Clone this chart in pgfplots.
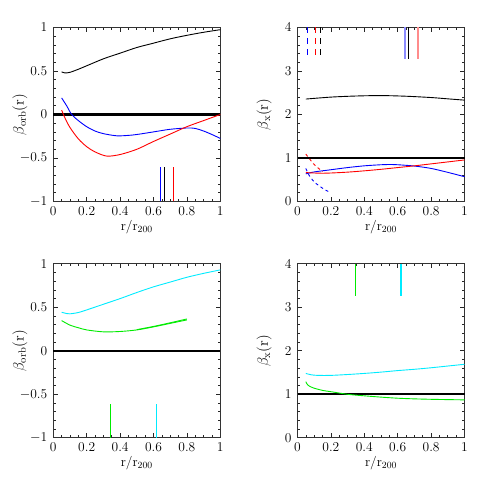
\RequirePackage{fix-cm}
\documentclass[border=0pt]{standalone}
\usepackage{pgfplots}
\pgfplotsset{compat=1.18}
\definecolor{cy}{RGB}{0,235,255}
\definecolor{gr}{RGB}{0,235,0}
\definecolor{lb}{RGB}{140,140,255}
\definecolor{lr}{RGB}{255,140,140}

\pgfplotsset{
  panel/.style={
    scale only axis, width=167pt, height=174pt,
    anchor=south west,
    xmin=0, xmax=1,
    xtick={0,0.2,...,1}, minor x tick num=3,
    xticklabels={0,0.2,0.4,0.6,0.8,1},
    tick align=inside,
    major tick length=4.5pt, minor tick length=2.5pt,
    every tick/.style={black!85, line width=0.65pt},
    axis line style={black!80, line width=0.8pt},
    tick label style={font=\fontsize{13.5}{15}\selectfont},
    xticklabel style={yshift=-1.5pt},
    yticklabel style={xshift=-2.5pt},
    xlabel={$\mathrm{r/r_{200}}$},
    xlabel style={font=\fontsize{13.5}{15}\selectfont,
      at={(axis description cs:0.5,-0.145)}, anchor=center},
    ylabel style={font=\fontsize{15}{17}\selectfont,
      at={(axis description cs:-0.2,0.5)}, anchor=center},
    clip=false,
  },
  orb/.style={panel, ymin=-1, ymax=1, ytick={-1,-0.5,0,0.5,1}, minor y tick num=4,
    ylabel={$\beta_{\mathrm{orb}}(\mathrm{r})$}},
  bx/.style={panel, ymin=0, ymax=4, ytick={0,1,2,3,4}, minor y tick num=4,
    ylabel={$\beta_{\mathrm{x}}(\mathrm{r})$}},
  crv/.style={line width=0.9pt, no marks, smooth},
  mk/.style={line width=1.1pt, no marks},
}

\begin{document}
\begin{tikzpicture}[x=1pt,y=1pt]
\path (0,0) rectangle (491,491);

% top left
\begin{axis}[orb, at={(53.3pt,289.5pt)}]
\addplot[black, line width=2.2pt, no marks] coordinates {(0,0) (1,0)};
\addplot[black, crv] coordinates {(0.05,0.49) (0.07,0.478) (0.1,0.485) (0.15,0.52) (0.2,0.56) (0.3,0.64) (0.4,0.705) (0.5,0.77) (0.6,0.82) (0.7,0.87) (0.8,0.91) (0.9,0.945) (1.0,0.975)};
\addplot[blue, crv] coordinates {(0.05,0.19) (0.08,0.10) (0.11,0.0) (0.15,-0.07) (0.2,-0.14) (0.25,-0.19) (0.3,-0.22) (0.38,-0.245) (0.45,-0.24) (0.5,-0.23) (0.6,-0.2) (0.7,-0.17) (0.8,-0.155) (0.85,-0.16) (0.9,-0.19) (0.95,-0.23) (1.0,-0.275)};
\addplot[red, crv] coordinates {(0.05,0.05) (0.07,-0.04) (0.1,-0.15) (0.15,-0.28) (0.2,-0.37) (0.25,-0.43) (0.32,-0.478) (0.4,-0.46) (0.5,-0.4) (0.6,-0.31) (0.7,-0.225) (0.8,-0.14) (0.9,-0.07) (1.0,0.0)};
\addplot[blue, mk] coordinates {(0.642,-1) (0.642,-0.6)};
\addplot[black, mk] coordinates {(0.666,-1) (0.666,-0.6)};
\addplot[red, mk] coordinates {(0.722,-1) (0.722,-0.6)};
\end{axis}

% top right
\begin{axis}[bx, at={(297.5pt,289.5pt)}]
\addplot[black, line width=2.2pt, no marks] coordinates {(0,1) (1,1)};
\addplot[black, crv] coordinates {(0.05,2.355) (0.2,2.40) (0.35,2.425) (0.5,2.435) (0.65,2.42) (0.8,2.39) (0.9,2.36) (1.0,2.33)};
\addplot[blue, crv] coordinates {(0.05,0.635) (0.1,0.68) (0.2,0.73) (0.3,0.78) (0.4,0.82) (0.5,0.845) (0.55,0.85) (0.6,0.845) (0.7,0.815) (0.8,0.76) (0.9,0.67) (1.0,0.57)};
\addplot[red, crv] coordinates {(0.05,0.665) (0.1,0.655) (0.15,0.65) (0.2,0.655) (0.3,0.675) (0.4,0.705) (0.5,0.74) (0.6,0.78) (0.7,0.82) (0.8,0.865) (0.9,0.91) (1.0,0.955)};
\addplot[blue, crv, dashed] coordinates {(0.05,0.76) (0.07,0.6) (0.1,0.45) (0.13,0.36) (0.16,0.28) (0.2,0.2)};
\addplot[red, crv, dashed] coordinates {(0.05,1.09) (0.1,0.85) (0.15,0.69)};
\addplot[lb, line width=1.8pt, no marks] coordinates {(0.642,4) (0.642,3.27)};
\addplot[black, mk] coordinates {(0.666,4) (0.666,3.27)};
\addplot[lr, line width=1.8pt, no marks] coordinates {(0.722,4) (0.722,3.27)};
\addplot[blue, mk, dash pattern=on 6pt off 5pt] coordinates {(0.06,4) (0.06,3.33)};
\addplot[red, mk, dash pattern=on 6pt off 5pt] coordinates {(0.106,4) (0.106,3.33)};
\addplot[black, mk, dash pattern=on 6pt off 5pt] coordinates {(0.136,4) (0.136,3.33)};
\end{axis}

% bottom left
\begin{axis}[orb, at={(53.3pt,53.2pt)}]
\addplot[black, line width=2.2pt, no marks] coordinates {(0,0) (1,0)};
\addplot[cy, crv] coordinates {(0.05,0.443) (0.08,0.428) (0.1,0.425) (0.15,0.44) (0.2,0.47) (0.3,0.535) (0.4,0.60) (0.5,0.67) (0.6,0.735) (0.7,0.79) (0.8,0.845) (0.9,0.89) (1.0,0.93)};
\addplot[gr, crv] coordinates {(0.05,0.347) (0.1,0.295) (0.15,0.265) (0.2,0.24) (0.3,0.218) (0.4,0.222) (0.5,0.24) (0.6,0.275) (0.7,0.315) (0.8,0.355)};
\addplot[gr, crv] coordinates {(0.5,0.243) (0.6,0.28) (0.7,0.322) (0.8,0.366)};
\addplot[gr, mk] coordinates {(0.344,-1) (0.344,-0.61)};
\addplot[cy, mk] coordinates {(0.62,-1) (0.62,-0.61)};
\end{axis}

% bottom right
\begin{axis}[bx, at={(297.5pt,53.2pt)}]
\addplot[black, line width=2.2pt, no marks] coordinates {(0,1) (1,1)};
\addplot[cy, crv] coordinates {(0.05,1.48) (0.08,1.45) (0.12,1.435) (0.2,1.435) (0.3,1.455) (0.4,1.48) (0.5,1.51) (0.6,1.545) (0.7,1.575) (0.8,1.61) (0.9,1.65) (1.0,1.69)};
\addplot[gr, crv] coordinates {(0.05,1.29) (0.06,1.22) (0.08,1.17) (0.1,1.14) (0.15,1.09) (0.2,1.06) (0.3,1.0) (0.4,0.965) (0.5,0.935) (0.6,0.91) (0.7,0.895) (0.8,0.885) (0.9,0.878) (1.0,0.872)};
\addplot[gr, mk] coordinates {(0.345,4) (0.345,3.25)};
\addplot[cy, mk] coordinates {(0.62,4) (0.62,3.25)};
\end{axis}
\end{tikzpicture}
\end{document}
